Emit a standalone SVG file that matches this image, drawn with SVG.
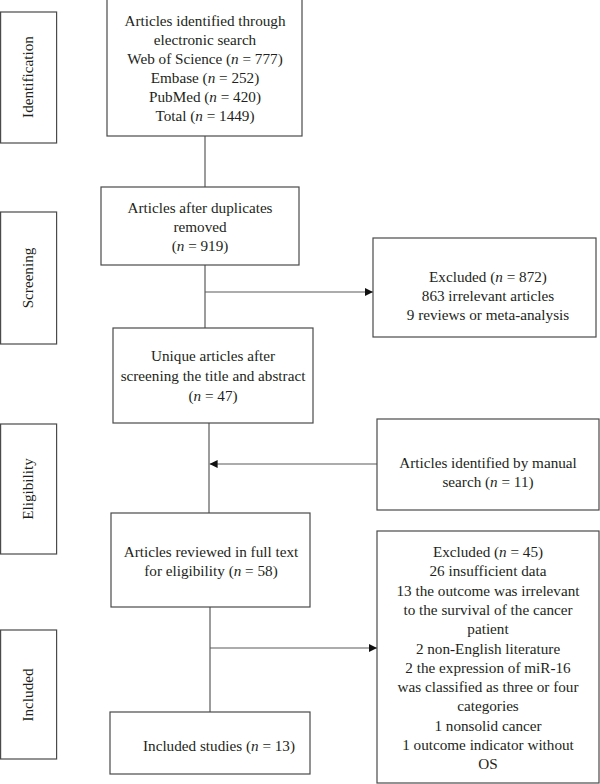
<svg xmlns="http://www.w3.org/2000/svg" width="600" height="784" viewBox="0 0 600 784">
<style>
rect{fill:#fff;stroke:#4a4a4a;stroke-width:1.2}
text{font-family:"Liberation Serif","Times New Roman",serif;font-size:15.2px;fill:#231f20;text-anchor:middle}
.c line{stroke:#5a5a5a;stroke-width:1.2}
</style>
<defs>
<marker id="ah" viewBox="0 0 10 10" refX="10" refY="5" markerWidth="8" markerHeight="8" markerUnits="userSpaceOnUse" orient="auto">
<path d="M0,0 L10,5 L0,10 z" fill="#111"/>
</marker>
</defs>
<rect width="600" height="784" style="fill:#fff;stroke:none"/>
<g id="stage-identification"><rect x="0.6" y="12" width="56" height="131"/><text transform="translate(33,77) rotate(-90)">Identification</text></g>
<g id="stage-screening"><rect x="0.6" y="212" width="56" height="132"/><text transform="translate(33,278) rotate(-90)">Screening</text></g>
<g id="stage-eligibility"><rect x="0.6" y="424" width="56" height="130"/><text transform="translate(33,489) rotate(-90)">Eligibility</text></g>
<g id="stage-included"><rect x="0.6" y="630" width="56" height="129"/><text transform="translate(33,695) rotate(-90)">Included</text></g>
<g class="c" id="connectors">
<line x1="205" y1="136" x2="205" y2="187"/>
<line x1="205" y1="265" x2="205" y2="328"/>
<line x1="205" y1="292" x2="373" y2="292" marker-end="url(#ah)"/>
<line x1="209" y1="423" x2="209" y2="513"/>
<line x1="377" y1="464" x2="209.6" y2="464" marker-end="url(#ah)"/>
<line x1="210" y1="607" x2="210" y2="712"/>
<line x1="210" y1="648" x2="377" y2="648" marker-end="url(#ah)"/>
</g>
<g id="node-identified"><rect x="107" y="-1" width="195" height="137"/>
<text x="205" y="26">Articles identified through</text>
<text x="205" y="45">electronic search</text>
<text x="205" y="64">Web of Science (<tspan font-style="italic">n</tspan> = 777)</text>
<text x="205" y="83">Embase (<tspan font-style="italic">n</tspan> = 252)</text>
<text x="205" y="102">PubMed (<tspan font-style="italic">n</tspan> = 420)</text>
<text x="205" y="121">Total (<tspan font-style="italic">n</tspan> = 1449)</text>
</g>
<g id="node-duplicates"><rect x="101" y="187" width="198" height="78"/>
<text x="200" y="213">Articles after duplicates</text>
<text x="200" y="232">removed</text>
<text x="200" y="251">(<tspan font-style="italic">n</tspan> = 919)</text>
</g>
<g id="node-excluded1"><rect x="373" y="238" width="223" height="99"/>
<text x="488" y="282">Excluded (<tspan font-style="italic">n</tspan> = 872)</text>
<text x="488" y="301">863 irrelevant articles</text>
<text x="488" y="320">9 reviews or meta-analysis</text>
</g>
<g id="node-unique"><rect x="113" y="328" width="200" height="95"/>
<text x="213" y="361">Unique articles after</text>
<text x="213" y="381">screening the title and abstract</text>
<text x="213" y="401">(<tspan font-style="italic">n</tspan> = 47)</text>
</g>
<g id="node-manual"><rect x="377" y="419" width="222" height="91"/>
<text x="488" y="468">Articles identified by manual</text>
<text x="488" y="487">search (<tspan font-style="italic">n</tspan> = 11)</text>
</g>
<g id="node-fulltext"><rect x="111" y="513" width="199" height="94"/>
<text x="211" y="557">Articles reviewed in full text</text>
<text x="211" y="576">for eligibility (<tspan font-style="italic">n</tspan> = 58)</text>
</g>
<g id="node-excluded2"><rect x="377" y="531" width="222" height="252"/>
<text x="488" y="557">Excluded (<tspan font-style="italic">n</tspan> = 45)</text>
<text x="488" y="576.3">26 insufficient data</text>
<text x="488" y="595.6">13 the outcome was irrelevant</text>
<text x="488" y="614.9">to the survival of the cancer</text>
<text x="488" y="634.2">patient</text>
<text x="488" y="653.5">2 non-English literature</text>
<text x="488" y="672.8">2 the expression of miR-16</text>
<text x="488" y="692.1">was classified as three or four</text>
<text x="488" y="711.4">categories</text>
<text x="488" y="730.7">1 nonsolid cancer</text>
<text x="488" y="750">1 outcome indicator without</text>
<text x="488" y="769.3">OS</text>
</g>
<g id="node-included"><rect x="110" y="712" width="200" height="62"/>
<text x="219" y="751">Included studies (<tspan font-style="italic">n</tspan> = 13)</text>
</g>
</svg>
